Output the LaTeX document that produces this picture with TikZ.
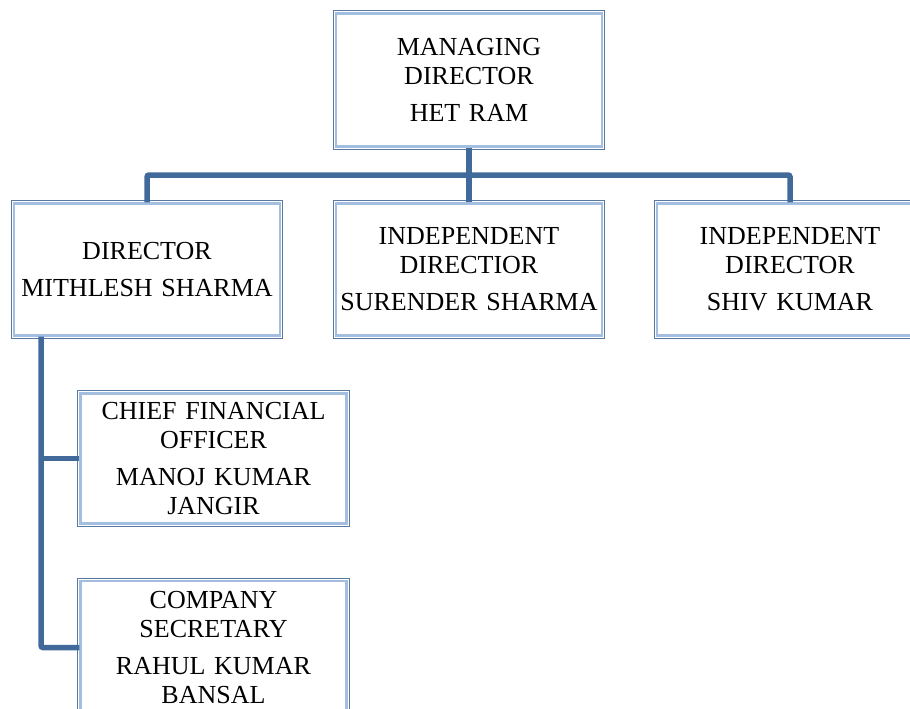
\documentclass[tikz,border=0pt]{standalone}
\usepackage{fontspec}
\setmainfont{Liberation Serif}
\definecolor{linkblue}{HTML}{41699A}
\definecolor{boxouter}{HTML}{5878A0}
\definecolor{boxinner}{HTML}{A4BEE0}
\tikzset{
  orgbox/.style={draw=boxinner, line width=2.2pt, fill=white,
    minimum width=266pt, minimum height=133pt, inner sep=0pt,
    align=center, text width=266pt,
    font=\fontsize{26}{28.5}\selectfont},
  orgframe/.style={draw=boxouter, line width=0.9pt},
  link/.style={draw=linkblue, line width=5.5pt, rounded corners=2pt}
}
\newcommand{\myorgframe}[1]{\draw[orgframe] ([shift={(-1.5pt,1.5pt)}]#1.north west) rectangle ([shift={(1.5pt,-1.5pt)}]#1.south east);}
\begin{document}
\begin{tikzpicture}[x=1pt,y=-1pt]
\useasboundingbox (0,0) rectangle (910,709);
\clip (0,0) rectangle (910,709);
\coordinate (bar) at (469,175);
\coordinate (spine) at (41,337);
% boxes
\node[orgbox, minimum height=133pt] (md) at (469,80) {MANAGING\\DIRECTOR\\[9pt]HET RAM};
\node[orgbox, minimum height=132pt] (dir) at (147,269.5) {DIRECTOR\\[9pt]MITHLESH SHARMA};
\node[orgbox, minimum height=132pt] (ind1) at (469,269.5) {INDEPENDENT\\DIRECTIOR\\[9pt]SURENDER SHARMA};
\node[orgbox, minimum height=132pt] (ind2) at (790,269.5) {INDEPENDENT\\DIRECTOR\\[9pt]SHIV KUMAR};
\node[orgbox, minimum height=130pt] (cfo) at (213.5,458.5) {CHIEF FINANCIAL\\OFFICER\\[9pt]MANOJ KUMAR\\JANGIR};
\node[orgbox, minimum height=133pt] (cs) at (213.5,647.5) {COMPANY\\SECRETARY\\[9pt]RAHUL KUMAR\\BANSAL};
\myorgframe{md}
\myorgframe{dir}
\myorgframe{ind1}
\myorgframe{ind2}
\myorgframe{cfo}
\myorgframe{cs}
% links
\draw[link] (md.south) -- (ind1.north);
\draw[link] (dir.north) |- (bar) -| (ind2.north);
\draw[link] (dir.south -| spine) |- (cs.west);
\draw[link] (spine |- cfo.west) -- (cfo.west);
\end{tikzpicture}
\end{document}
